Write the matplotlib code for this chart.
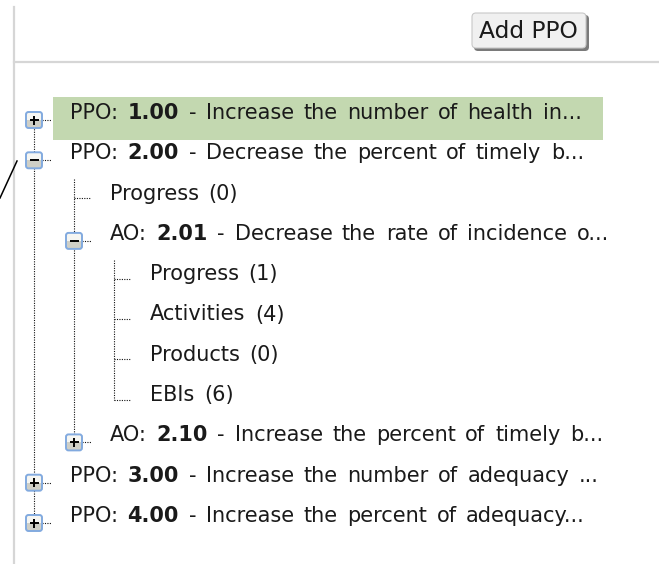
import matplotlib.pyplot as plt
from matplotlib.patches import FancyBboxPatch, Rectangle

# tree rows, top to bottom
levels = [1, 1, 2, 2, 3, 3, 3, 3, 2, 1, 1]
kinds = ["PPO:", "PPO:", None, "AO:", None, None, None, None, "AO:", "PPO:", "PPO:"]
numbers = ["1.00", "2.00", None, "2.01", None, None, None, None, "2.10", "3.00", "4.00"]
labels = [
    "- Increase the number of health in...",
    "- Decrease the percent of timely b...",
    "Progress (0)",
    "- Decrease the rate of incidence o...",
    "Progress (1)",
    "Activities (4)",
    "Products (0)",
    "EBIs (6)",
    "- Increase the percent of timely b...",
    "- Increase the number of adequacy ...",
    "- Increase the percent of adequacy...",
]
expanders = ["+", "-", None, "-", None, None, None, None, "+", "+", "+"]
selected_row = 0

plt.rcParams["font.family"] = ["DejaVu Sans"]
FS = 15
GAP = 6.9  # word gap in points (Verdana-like spacing)
TXT = "#1a1a1a"
DOT = "#111111"

fig = plt.figure(figsize=(6.59, 5.64), dpi=100)
ax = fig.add_axes([0, 0, 1, 1])
ax.set_xlim(0, 659)
ax.set_ylim(564, 0)
ax.axis("off")

y0, step = 119, 40.3
ys = [y0 + i * step for i in range(len(levels))]


def col_x(level):
    return 34 + 40 * (level - 1)


def dotted(xs, yy):
    ax.plot(xs, yy, color=DOT, lw=0.8, linestyle=(0, (1, 1.2)), zorder=1)


def draw_words(x, y, words):
    # words: list of (text, weight); drawn one after the other on a shared baseline
    prev = None
    for w, weight in words:
        if prev is None:
            prev = ax.text(x, y, w, fontsize=FS, fontweight=weight, color=TXT,
                           va="baseline", zorder=4)
        else:
            prev = ax.annotate(w, xy=(1, y), xycoords=(prev, "data"), xytext=(GAP, 0),
                               textcoords="offset points", fontsize=FS, fontweight=weight,
                               color=TXT, va="baseline", zorder=4)


# frame lines
ax.plot([14, 14], [7, 564], color="#d6d6d6", lw=1.6)
ax.plot([14, 659], [62, 62], color="#d6d6d6", lw=1.6)

# button
ax.add_patch(FancyBboxPatch((474, 15), 115, 36, boxstyle="round,pad=0,rounding_size=4",
                            fc="#7a7a7a", ec="none", zorder=2))
ax.add_patch(FancyBboxPatch((472, 13), 114, 35, boxstyle="round,pad=0,rounding_size=4",
                            fc="#f0f0f0", ec="#c8c8c8", lw=0.8, zorder=3))
ax.text(528, 31.5, "Add PPO", fontsize=16.8, color=TXT, ha="center", va="center", zorder=4)

# selection highlight
ax.add_patch(Rectangle((53, ys[selected_row] - 22), 550, 43, fc="#c3d8b0", ec="none", zorder=0))

# vertical connector lines (parent -> last child)
for i, lev in enumerate(levels):
    last = i
    for j in range(i + 1, len(levels)):
        if levels[j] < lev:
            break
        if levels[j] == lev:
            last = j
    if lev == 1:
        if i == 0:
            dotted([col_x(1), col_x(1)], [ys[0], ys[last]])
    elif levels[i - 1] == lev - 1:
        dotted([col_x(lev), col_x(lev)], [ys[i - 1] + 20, ys[last] - 1.5])

# rows
for i, lev in enumerate(levels):
    y = ys[i]
    cx = col_x(lev)
    tx = 70 + 40 * (lev - 1)
    if expanders[i] is None:
        dotted([cx, cx + 17], [y - 1.5, y - 1.5])
    else:
        yc = y + 1
        dotted([cx + 8, cx + 17], [yc, yc])
        ax.add_patch(Rectangle((cx - 7.5, yc - 7.5), 15, 7.5, fc="#f6f6f2", ec="none", zorder=3))
        ax.add_patch(Rectangle((cx - 7.5, yc), 15, 7.5, fc="#cfcfc6", ec="none", zorder=3))
        ax.add_patch(FancyBboxPatch((cx - 8, yc - 8), 16, 16,
                                    boxstyle="round,pad=0,rounding_size=2.5",
                                    fc="none", ec="#82aadf", lw=1.4, zorder=4))
        ax.plot([cx - 4.5, cx + 4.5], [yc, yc], color="black", lw=1.4, zorder=5,
                solid_capstyle="butt")
        if expanders[i] == "+":
            ax.plot([cx, cx], [yc - 4.5, yc + 4.5], color="black", lw=1.4, zorder=5,
                    solid_capstyle="butt")

    words = []
    if kinds[i] is not None:
        words += [(kinds[i], "normal"), (numbers[i], "bold")]
    words += [(w, "normal") for w in labels[i].split(" ") if w]
    draw_words(tx, y, words)

# pointer line at left edge
ax.plot([0, 17], [198, 161], color="black", lw=1.1)

fig.savefig("out.png", dpi=100)
